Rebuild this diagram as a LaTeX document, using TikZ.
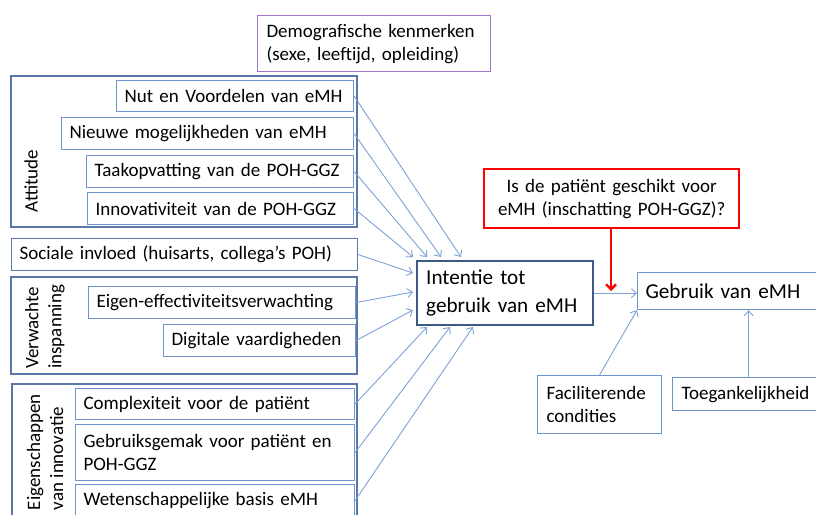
\documentclass[tikz,border=0pt]{standalone}
\usepackage{fontspec}
\setmainfont{Carlito}
\usetikzlibrary{arrows.meta,calc}
\definecolor{inblue}{HTML}{6F94CD}
\definecolor{outblue}{HTML}{5A78A6}
\definecolor{lineblue}{HTML}{7EA2D6}
\definecolor{intblue}{HTML}{3B5A85}
\definecolor{demopurple}{HTML}{A077C8}
\definecolor{redbox}{HTML}{FF0000}
\newcommand\fsn{\fontsize{19}{23}\selectfont}
\newcommand\fsb{\fontsize{21.2}{28}\selectfont}
\tikzset{
  inbox/.style={draw=inblue, line width=1.1pt, anchor=north west, inner xsep=8pt, inner ysep=0pt, align=left, font=\fsn},
  outbox/.style={draw=outblue, line width=1.2pt},
  conn/.style={draw=lineblue, line width=0.9pt, -{Straight Barb[length=5pt,width=9pt]}},
  sidelabel/.style={rotate=90, inner sep=0pt, align=left, font=\fsn},
}
\begin{document}
\begin{tikzpicture}[x=1pt,y=-1pt]
\useasboundingbox (0,0) rectangle (816,514);
\clip (0,0) rectangle (816,514);
\fill[white] (0,0) rectangle (816,514);

% demographic
\node[inbox, draw=demopurple, inner xsep=9pt, minimum width=233pt, text width=215pt, minimum height=56pt] (dem) at (257,15) {Demografische kenmerken\\(sexe, leeftijd, opleiding)};

% Attitude group
\draw[outbox] (11,76) rectangle (357,227);
\node[sidelabel] (attl) at (31,181) {Attitude};
\node[inbox, minimum width=237pt, text width=221pt, minimum height=31pt] (nut) at (116,80) {Nut en Voordelen van eMH};
\node[inbox, minimum width=292pt, text width=276pt, minimum height=32pt] (nie) at (61,117) {Nieuwe mogelijkheden van eMH};
\node[inbox, minimum width=267pt, text width=251pt, minimum height=32pt] (taa) at (86,155) {\mbox{Taakopvatting van de POH-GGZ}};
\node[inbox, minimum width=266pt, text width=250pt, minimum height=32pt] (inn) at (87,192) {\mbox{Innovativiteit van de POH-GGZ}};

% Social
\node[inbox, draw=outblue, minimum width=346pt, text width=330pt, minimum height=32pt] (soc) at (11,238) {\mbox{Sociale invloed (huisarts, collega’s POH)}};

% Verwachte inspanning group
\draw[outbox] (11,277) rectangle (357,374);
\node[sidelabel, anchor=west] (verl) at (45,369) {Verwachte\\inspanning};
\node[inbox, minimum width=267pt, text width=251pt, minimum height=32pt] (eig) at (88,286) {\mbox{Eigen-effectiviteitsverwachting}};
\node[inbox, minimum width=192pt, text width=176pt, minimum height=32pt] (dig) at (163,324) {\mbox{Digitale vaardigheden}};

% Eigenschappen group
\draw[outbox] (12,384) rectangle (357,540);
\node[sidelabel, anchor=east] (eigl) at (45,394) {Eigenschappen\\van innovatie};
\node[inbox, minimum width=279pt, text width=263pt, minimum height=31pt] (com) at (75,388) {Complexiteit voor de patiënt};
\node[inbox, minimum width=279pt, text width=263pt, minimum height=56pt] (gem) at (75,424) {\mbox{Gebruiksgemak voor patiënt en}\\POH-GGZ};
\node[inbox, minimum width=279pt, text width=263pt, minimum height=32pt] (wet) at (75,484) {Wetenschappelijke basis eMH};

% Intentie
\node[inbox, draw=intblue, line width=2.4pt, inner xsep=9pt, font=\fsb, minimum width=176pt, text width=158pt, minimum height=64pt] (int) at (416,260) {Intentie tot\\gebruik van eMH};

% red box
\node[inbox, draw=redbox, line width=2.4pt, align=center, minimum width=255pt, text width=239pt, minimum height=59pt] (red) at (483,168) {Is de patiënt geschikt voor\\\mbox{eMH (inschatting POH-GGZ)?}};

% Gebruik
\node[inbox, font=\fsb, minimum width=183pt, text width=167pt, minimum height=37pt] (geb) at (637,272) {Gebruik van eMH};
\node[inbox, inner xsep=9pt, minimum width=124pt, text width=106pt, minimum height=58pt] (fac) at (537,375) {Faciliterende\\condities};
\node[inbox, inner xsep=9pt, minimum width=152pt, text width=134pt, minimum height=33pt] (toe) at (672,377) {\mbox{Toegankelijkheid}};

% arrow end points
\coordinate (t1) at (461,257);
\coordinate (t2) at (441,257);
\coordinate (t3) at (427,257);
\coordinate (t4) at (413,257);
\coordinate (l1) at (413,273);
\coordinate (l2) at (413,292);
\coordinate (l3) at (413,310);
\coordinate (b1) at (427,327);
\coordinate (b2) at (450,327);
\coordinate (b3) at (473,327);
\coordinate (rj) at (611,291);

\draw[conn] (nut.east) -- (t1);
\draw[conn] (nie.east) -- (t2);
\draw[conn] (taa.east) -- (t3);
\draw[conn] (inn.east) -- (t4);
\draw[conn] (soc.east) -- (l1);
\draw[conn] (eig.east) -- (l2);
\draw[conn] (dig.east) -- (l3);
\draw[conn] (com.east) -- (b1);
\draw[conn] (gem.east) -- (b2);
\draw[conn] (wet.east) -- (b3);

\draw[conn] (int.east) -- (int.east -| geb.west);
\draw[conn] (fac.north) -- (geb.south west);
\draw[conn] (toe.north) -- (toe.north |- geb.south);

\draw[draw=redbox, line width=2.4pt, -{Straight Barb[length=5pt,width=10pt]}] (red.south -| rj) -- (rj);
\end{tikzpicture}
\end{document}
